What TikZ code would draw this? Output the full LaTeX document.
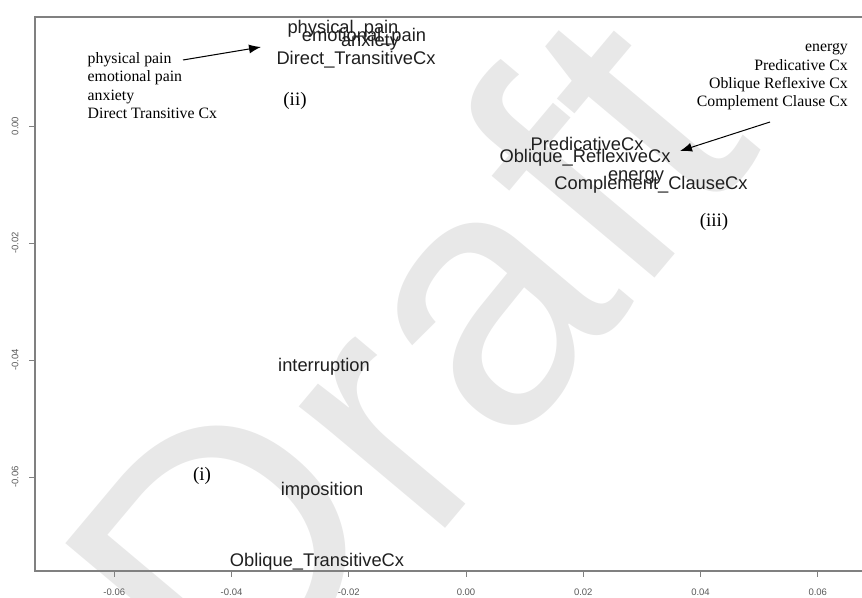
\documentclass[tikz,border=0pt]{standalone}
\usepackage{fontspec}
\setmainfont{Liberation Serif}
\setsansfont{Liberation Sans}
\usetikzlibrary{arrows.meta,positioning}
\tikzset{
	frame/.style={draw=black!50, line width=1.3pt},
	word/.style={font=\sffamily\fontsize{18.3}{20}\selectfont, text=black!88, inner sep=0pt, anchor=base},
	note/.style={font=\fontsize{15.8}{18.2}\selectfont, inner sep=0pt},
	tag/.style={font=\fontsize{19}{22}\selectfont, inner sep=0pt, anchor=base},
	ticklabel/.style={font=\sffamily\fontsize{9.5}{10}\selectfont, text=black!65, inner sep=0pt},
	pointer/.style={-{Latex[length=12pt,width=9pt]}, line width=1pt}, % arrows from the notes
	watermark/.style={font=\sffamily\fontsize{360}{360}\selectfont, text=black!9, inner sep=0pt},
}

\begin{document}
\begin{tikzpicture}[x=1pt,y=-1pt]
	\useasboundingbox (0,0) rectangle (862,597);
	\clip (0,0) rectangle (862,597);

	% watermark
	\node[watermark, rotate=50, anchor=base west] (draft) at (262,747) {\raisebox{33pt}{D}raft};

	% plot frame
	\draw[frame] (862,17) -- (35,17) -- (35,571) -- (862,571);
	\foreach \v/\t in {-3/-0.06,-2/-0.04,-1/-0.02,0/0.00,1/0.02,2/0.04,3/0.06}{
		\draw[frame, line width=0.8pt] (466+117.25*\v,571) -- (466+117.25*\v,577);
		\node[ticklabel] at (466+117.25*\v,592) {\t};
	}
	\foreach \v/\t in {0/0.00,-1/-0.02,-2/-0.04,-3/-0.06}{
		\draw[frame, line width=0.8pt] (35,126-117*\v) -- (29,126-117*\v);
		\node[ticklabel, rotate=90] at (15,126-117*\v) {\t};
	}

	% points of the plot
	\node[word] (phys) at (343,33) {physical\_pain};
	\node[word] (emot) at (364,41.7) {emotional\_pain};
	\node[word] (anx) at (370,46.7) {anxiety};
	\node[word] (dtcx) at (356,64) {Direct\_TransitiveCx};
	\node[word] (predcx) at (587,150.7) {PredicativeCx};
	\node[word] (orcx) at (585,162.3) {Oblique\_ReflexiveCx};
	\node[word] (energy) at (636,180) {energy};
	\node[word] (cccx) at (651,189.3) {Complement\_ClauseCx};
	\node[word] (interr) at (324,371) {interruption};
	\node[word] (impos) at (322,495) {imposition};
	\node[word] (otcx) at (317,566) {Oblique\_TransitiveCx};

	% groups
	\node[tag] (g1) at (202,480) {(i)};
	\node[tag] (g2) at (295,105) {(ii)};
	\node[tag] (g3) at (714,226) {(iii)};

	% notes
	\node[note, align=left, anchor=north west] (leftnote) at (87.5,52.5)
		{physical pain\\emotional pain\\anxiety\\Direct Transitive Cx};
	\node[note, align=right, anchor=north east] (rightnote) at (848,43.5)
		{energy\\Predicative Cx\\Oblique Reflexive Cx\\Complement Clause Cx};

	\coordinate (leftfrom) at (183,60);
	\coordinate (leftto) at (261,47);
	\coordinate (rightfrom) at (770,122);
	\coordinate (rightto) at (680,151);
	\draw[pointer] (leftfrom) -- (leftto);
	\draw[pointer] (rightfrom) -- (rightto);
\end{tikzpicture}
\end{document}
